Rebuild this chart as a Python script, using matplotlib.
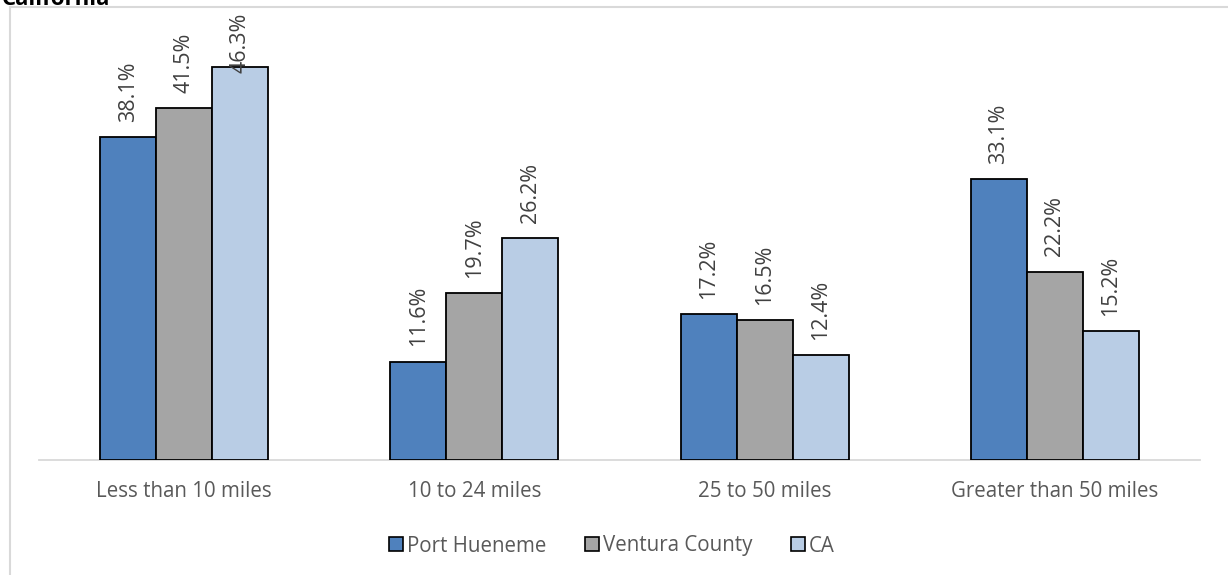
import matplotlib.pyplot as plt
import numpy as np
from matplotlib.lines import Line2D

categories = ["Less than 10 miles", "10 to 24 miles", "25 to 50 miles", "Greater than 50 miles"]
series_names = ["Port Hueneme", "Ventura County", "CA"]
port_hueneme = [38.1, 11.6, 17.2, 33.1]
ventura_county = [41.5, 19.7, 16.5, 22.2]
california = [46.3, 26.2, 12.4, 15.2]

colors = ["#4F81BD", "#A5A5A5", "#B9CDE5"]
text_color = "#595959"

plt.rcParams["font.family"] = ["Open Sans", "DejaVu Sans"]

fig = plt.figure(figsize=(12.28, 5.75), dpi=100)
ax = fig.add_axes([39 / 1228, 115 / 575, 1161 / 1228, 424.5 / 575])

x = np.arange(len(categories))
width = 0.193
values = [port_hueneme, ventura_county, california]

# label placement (data units): gap above bar, and cap so label stays in chart area
gap = 1.77
label_len = 7.1
top_limit = 52.65

for i, (name, vals, col) in enumerate(zip(series_names, values, colors)):
    pos = x + (i - 1) * width
    ax.bar(pos, vals, width, color=col, edgecolor="black", linewidth=1.3,
           label=name, zorder=3)
    for p, v in zip(pos, vals):
        y = min(v + gap, top_limit - label_len)
        ax.text(p, y, f"{v:.1f}%", rotation=90, ha="center", va="bottom",
                fontsize=15.5, color="#404040", clip_on=False, zorder=4)

ax.set_xlim(-0.5, len(categories) - 0.5)
ax.set_ylim(0, 50)
ax.set_xticks(x)
ax.set_xticklabels(categories, fontsize=14.8, color=text_color)
ax.tick_params(axis="x", length=0, pad=15)
ax.set_yticks([])
for side in ["top", "right", "left"]:
    ax.spines[side].set_visible(False)
ax.spines["bottom"].set_color("#D9D9D9")
ax.spines["bottom"].set_linewidth(1.3)

handles = [plt.Rectangle((0, 0), 1, 1, facecolor=c, edgecolor="black", linewidth=1.2)
           for c in colors]
fig.legend(handles, series_names, loc="center", bbox_to_anchor=(612 / 1228, 1 - 546 / 575),
           ncol=3, frameon=False, fontsize=14.8, handlelength=0.65, handleheight=0.65,
           handletextpad=0.2, columnspacing=1.9, labelcolor=text_color)

# chart area border (cut off at the right and bottom)
fig.add_artist(Line2D([10 / 1228, 10 / 1228], [0, 1 - 7 / 575], color="#D9D9D9", lw=1.5))
fig.add_artist(Line2D([10 / 1228, 1], [1 - 7 / 575, 1 - 7 / 575], color="#D9D9D9", lw=1.5))

# title, mostly cut off at the top of the image
fig.text(2 / 1228, 1 - 5 / 575, "California", fontsize=16, fontweight="bold",
         color="black", va="baseline", ha="left")

fig.savefig("out.png", dpi=100, facecolor="white")
